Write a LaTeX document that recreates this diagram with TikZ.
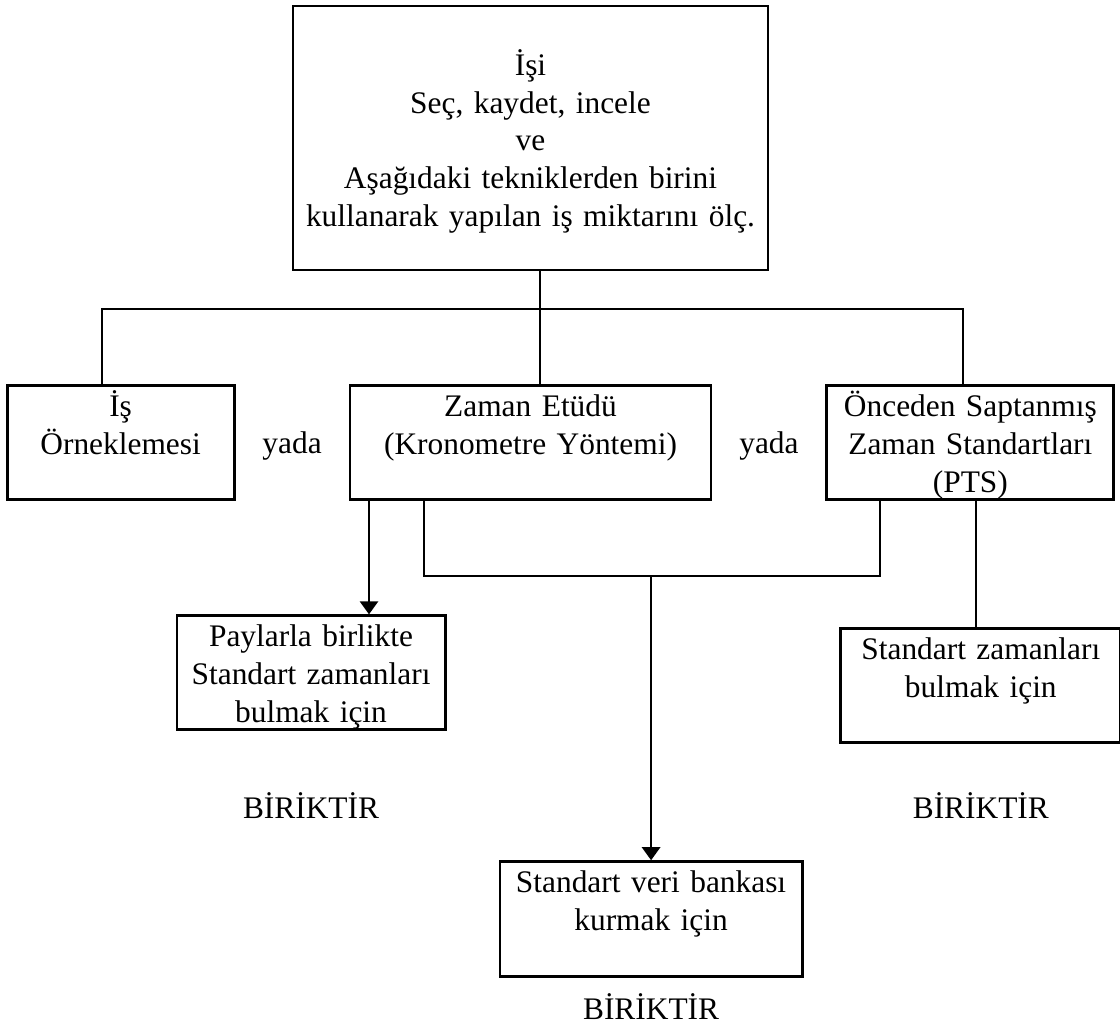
\documentclass[tikz,border=0pt]{standalone}
\usepackage{fontspec}
\setmainfont{Liberation Serif}
\usetikzlibrary{positioning,calc,arrows.meta}

\tikzset{
  kutu/.style={draw, line width=1.1pt, inner sep=0pt, align=center, text height=11.9pt, text depth=31.7pt},
  etiket/.style={inner sep=0pt},
}

\begin{document}
\begin{tikzpicture}[x=0.3823pt, y=0.3823pt, >={Triangle[width=7pt,length=5pt]}, line width=0.8pt, font=\fontsize{12}{14.5}\selectfont]
    \useasboundingbox (0,0) rectangle (1120,-1026);

    % Define nodes
    \node[kutu, text width=181.6pt, text height=26.4pt, text depth=74.5pt] (isi) at (530.5,-138) {İşi\\Seç, kaydet, incele\\ve\\Aşağıdaki tekniklerden birini\\kullanarak yapılan iş miktarını ölç.};

    \node[kutu, text width=138pt, below=43.2pt of isi] (zaman) {Zaman Etüdü\\(Kronometre Yöntemi)};
    \node[kutu, text width=86.8pt, left=43.2pt of zaman] (ornek) {İş\\Örneklemesi};
    \node[kutu, text width=109.7pt, right=43.2pt of zaman] (pts) {Önceden Saptanmış\\Zaman Standartları\\(PTS)};

    \node[etiket] (yada1) at ($(ornek.east)!0.5!(zaman.west)+(0,-3)$) {yada};
    \node[etiket] (yada2) at ($(zaman.east)!0.5!(pts.west)+(0,-3)$) {yada};

    \node[kutu, text width=102.5pt, below=43.2pt of zaman, xshift=-83.9pt] (payl) {Paylarla birlikte\\Standart zamanları\\bulmak için};
    \node[kutu, text width=107pt, below=48.2pt of pts, xshift=4pt] (std) {Standart zamanları\\bulmak için};
    \node[kutu, text width=115.5pt, text depth=32.1pt, below=137.2pt of zaman, xshift=46.1pt] (veri) {Standart veri bankası\\kurmak için};

    \node[etiket] (biriktir1) at ($(payl.south)+(0,-74)$) {BİRİKTİR};
    \node[etiket] (biriktir2) at ($(std.south)+(0,-61)$) {BİRİKTİR};
    \node[etiket] (biriktir3) at ($(veri.south)+(0,-28)$) {BİRİKTİR};

    % Junction points
    \coordinate (bus) at ($(isi.south)+(0,-38)$);
    \coordinate (mid) at ($(zaman.south)+(0,-75)$);
    \coordinate (merge) at (veri.north |- mid);
    \coordinate (zl) at ($(zaman.south)+(-161.5,0)$);
    \coordinate (pr) at ($(pts.south)+(5.5,0)$);

    \draw ($(isi.south)+(9.5,0)$) -- ($(zaman.north)+(9.5,0)$);
    \draw ($(ornek.north)+(-18.5,0)$) |- (bus) -| ($(pts.north)+(-7.5,0)$);

    \draw[->] (zl) -- (zl |- payl.north);
    \draw ($(zaman.south)+(-106.5,0)$) |- (merge) -| ($(pts.south)+(-90.5,0)$);
    \draw[->] (merge) -- (veri);
    \draw (pr) -- (pr |- std.north);

\end{tikzpicture}
\end{document}
